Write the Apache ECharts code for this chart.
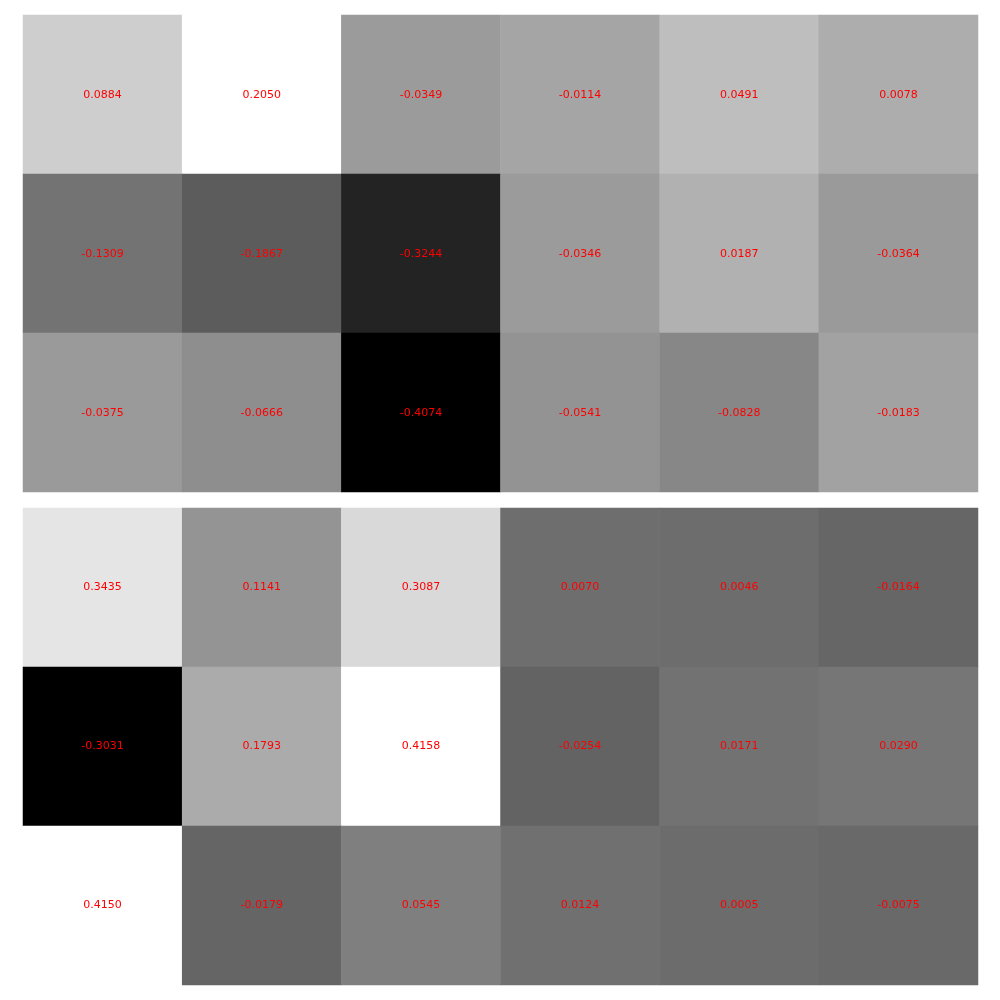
<!DOCTYPE html>
<html>
<head>
<meta charset="utf-8">
<script src="https://cdn.jsdelivr.net/npm/echarts@6/dist/echarts.min.js"></script>
<style>html,body{margin:0;padding:0;background:#fff}#c{width:1000px;height:1000px}</style>
</head>
<body>
<div id="c"></div>
<script>
var cols = ['0','1','2','3','4','5'];
var rows = ['0','1','2'];
var topRow0 = [0.0884, 0.2050, -0.0349, -0.0114, 0.0491, 0.0078];
var topRow1 = [-0.1309, -0.1867, -0.3244, -0.0346, 0.0187, -0.0364];
var topRow2 = [-0.0375, -0.0666, -0.4074, -0.0541, -0.0828, -0.0183];
var botRow0 = [0.3435, 0.1141, 0.3087, 0.0070, 0.0046, -0.0164];
var botRow1 = [-0.3031, 0.1793, 0.4158, -0.0254, 0.0171, 0.0290];
var botRow2 = [0.4150, -0.0179, 0.0545, 0.0124, 0.0005, -0.0075];

function build(rowsArr){
  var d = [];
  rowsArr.forEach(function(r, yi){ r.forEach(function(v, xi){ d.push([xi, yi, v]); }); });
  return d;
}
var topData = build([topRow0, topRow1, topRow2]);
var botData = build([botRow0, botRow1, botRow2]);
function mm(d){ var vs = d.map(function(p){return p[2];}); return [Math.min.apply(null,vs), Math.max.apply(null,vs)]; }
var tm = mm(topData), bm = mm(botData);

var chart = echarts.init(document.getElementById('c'));
function lbl(dy){
  return {show:true, color:'#ff0000', fontSize:11, fontFamily:'DejaVu Sans', offset:[0,dy], formatter:function(p){return p.value[2].toFixed(4);}};
}
chart.setOption({
  animation:false,
  grid:[{left:23,right:22,top:15,height:477},{left:23,right:22,top:508,height:477}],
  xAxis:[{type:'category',data:cols,gridIndex:0,show:false},{type:'category',data:cols,gridIndex:1,show:false}],
  yAxis:[{type:'category',data:rows,gridIndex:0,show:false,inverse:true},{type:'category',data:rows,gridIndex:1,show:false,inverse:true}],
  visualMap:[
    {show:false,type:'continuous',seriesIndex:0,min:tm[0],max:tm[1],inRange:{color:['#000000','#ffffff']}},
    {show:false,type:'continuous',seriesIndex:1,min:bm[0],max:bm[1],inRange:{color:['#000000','#ffffff']}}
  ],
  series:[
    {type:'heatmap',xAxisIndex:0,yAxisIndex:0,data:topData,label:lbl(1),emphasis:{disabled:true}},
    {type:'heatmap',xAxisIndex:1,yAxisIndex:1,data:botData,label:lbl(0),emphasis:{disabled:true}}
  ]
});
</script>
</body>
</html>
